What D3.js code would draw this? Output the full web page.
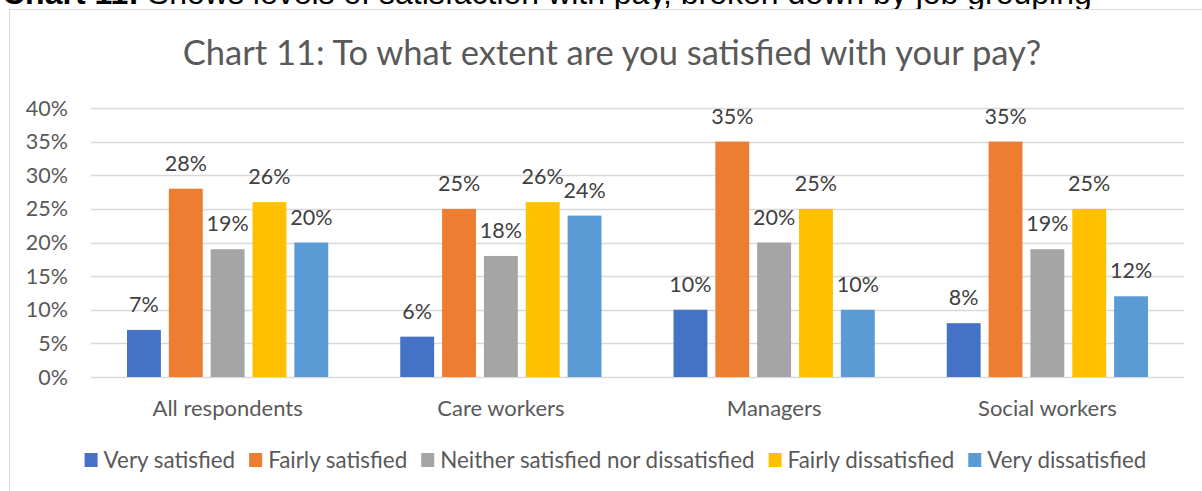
<!DOCTYPE html>
<html>
<head>
<meta charset="utf-8">
<script src="https://cdn.jsdelivr.net/npm/d3@7"></script>
<style>
  body { margin: 0; background: #fff; }
  svg { display: block; }
</style>
</head>
<body>
<div id="root"></div>
<script>
const w = 1202, h = 491

// data
const categories = ["All respondents", "Care workers", "Managers", "Social workers"]
const seriesNames = ["Very satisfied", "Fairly satisfied", "Neither satisfied nor dissatisfied", "Fairly dissatisfied", "Very dissatisfied"]
const seriesColors = ["#4472c4", "#ed7d31", "#a5a5a5", "#ffc000", "#5b9bd5"]
const veryS = [7, 6, 10, 8]
const fairlyS = [28, 25, 35, 35]
const neither = [19, 18, 20, 19]
const fairlyD = [26, 26, 25, 25]
const veryD = [20, 24, 10, 12]
const yTicks = [0, 5, 10, 15, 20, 25, 30, 35, 40]

const seriesValues = [veryS, fairlyS, neither, fairlyD, veryD]

const font = "Lato, 'Open Sans', sans-serif"
const grey = "#595959"

const svg = d3.select("#root").append("svg")
    .attr("width", w)
    .attr("height", h)

// caption of the page, cut off at the top like in the source
svg.append("text")
    .attr("x", 2)
    .attr("y", 4)
    .attr("font-family", "'Liberation Sans', Arial, sans-serif")
    .attr("font-size", 32)
    .attr("fill", "#000")
    .html("<tspan font-weight='bold'>Chart 11:</tspan> Shows levels of satisfaction with pay, broken down by job grouping")

// chart frame
svg.append("rect")
    .attr("x", 9.5)
    .attr("y", 9.5)
    .attr("width", w + 20)
    .attr("height", h + 20)
    .attr("fill", "#fff")
    .attr("stroke", "#d9d9d9")

// title
svg.append("text")
    .attr("x", 612)
    .attr("y", 65)
    .attr("text-anchor", "middle")
    .attr("font-family", font)
    .attr("font-size", 34.5)
    .attr("fill", grey)
    .text("Chart 11: To what extent are you satisfied with your pay?")

//scales
const x0 = d3.scaleBand()
    .domain(categories)
    .range([91, 1184])

const x1 = d3.scaleBand()
    .domain(d3.range(seriesNames.length))
    .range([36, x0.bandwidth() - 36])
    .paddingInner(0.19)

const y = d3.scaleLinear()
    .domain([0, 40])
    .range([377, 108])

// gridlines
svg.append("g").selectAll("line")
    .data(yTicks)
    .enter().append("line")
    .attr("x1", 91)
    .attr("x2", 1184)
    .attr("y1", d => Math.round(y(d)) + 0.5)
    .attr("y2", d => Math.round(y(d)) + 0.5)
    .attr("stroke", "#d9d9d9")
    .attr("stroke-width", 1.3)

// y labels
svg.append("g").selectAll("text")
    .data(yTicks)
    .enter().append("text")
    .attr("x", 68)
    .attr("y", d => y(d) + 7.5)
    .attr("text-anchor", "end")
    .attr("font-family", font)
    .attr("font-size", 21.5)
    .attr("fill", grey)
    .text(d => d + "%")

// bars
const groups = svg.append("g").selectAll("g")
    .data(categories)
    .enter().append("g")
    .attr("transform", d => `translate(${x0(d)},0)`)

groups.selectAll("rect")
    .data((d, i) => seriesValues.map((s, j) => ({ s: j, v: s[i] })))
    .enter().append("rect")
    .attr("x", d => x1(d.s))
    .attr("width", x1.bandwidth())
    .attr("y", d => y(d.v))
    .attr("height", d => y(0) - y(d.v))
    .attr("fill", d => seriesColors[d.s])

groups.selectAll("text")
    .data((d, i) => seriesValues.map((s, j) => ({ s: j, v: s[i] })))
    .enter().append("text")
    .attr("x", d => x1(d.s) + x1.bandwidth() / 2)
    .attr("y", d => y(d.v) - 18)
    .attr("text-anchor", "middle")
    .attr("font-family", font)
    .attr("font-size", 21.5)
    .attr("fill", "#404040")
    .text(d => d.v + "%")

// category labels
svg.append("g").selectAll("text")
    .data(categories)
    .enter().append("text")
    .attr("x", d => x0(d) + x0.bandwidth() / 2)
    .attr("y", 416)
    .attr("text-anchor", "middle")
    .attr("font-family", font)
    .attr("font-size", 22)
    .attr("fill", grey)
    .text(d => d)

// legend
const legend = svg.append("g")
const items = legend.selectAll("g")
    .data(seriesNames)
    .enter().append("g")

items.append("rect")
    .attr("width", 13)
    .attr("height", 14)
    .attr("y", 453)
    .attr("fill", (d, i) => seriesColors[i])

items.append("text")
    .attr("x", 19)
    .attr("y", 468)
    .attr("font-family", font)
    .attr("font-size", 22.4)
    .attr("fill", grey)
    .text(d => d)

const widths = []
items.each(function () {
    const tw = d3.select(this).select("text").node().getComputedTextLength()
    widths.push(19 + tw)
})
const gap = 14
const total = d3.sum(widths) + gap * (widths.length - 1)
let pos = 615.5 - total / 2
items.attr("transform", (d, i) => {
    const p = pos
    pos += widths[i] + gap
    return `translate(${p},0)`
})
</script>
</body>
</html>
